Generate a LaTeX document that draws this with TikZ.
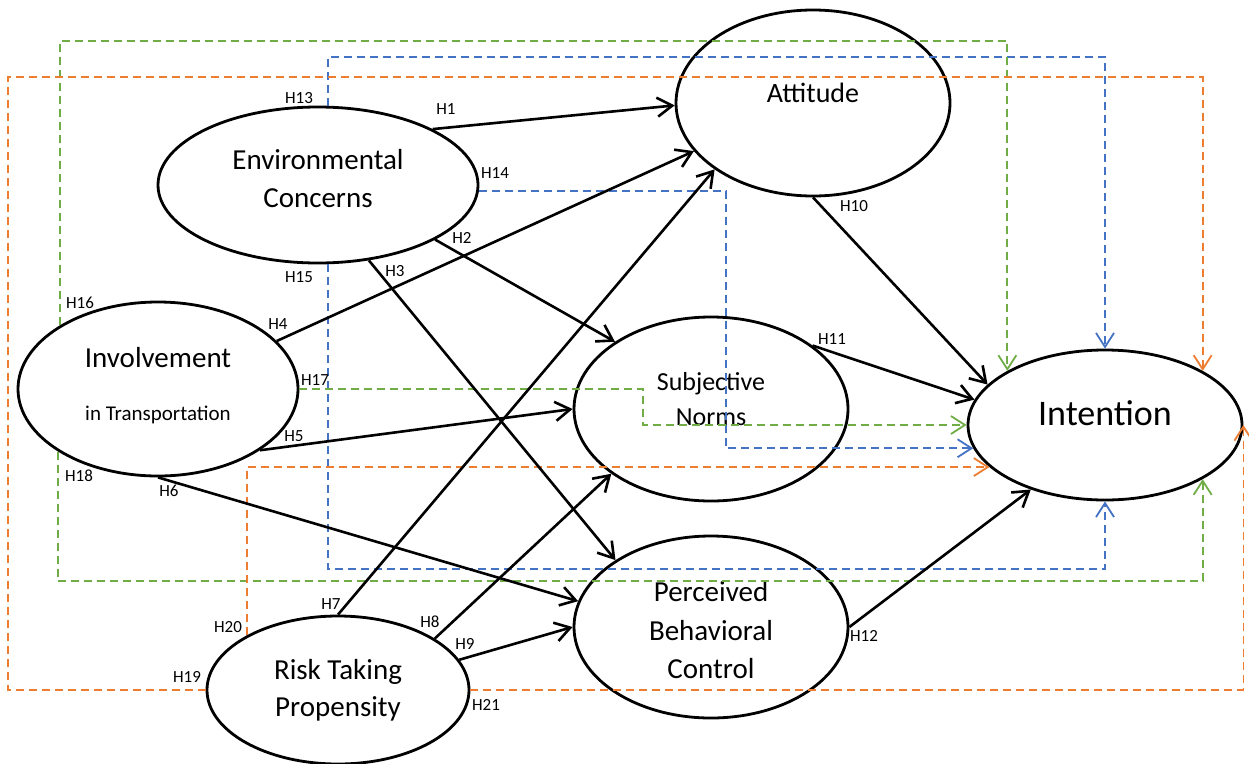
\documentclass[tikz,border=0pt]{standalone}
\usepackage{fontspec}
\setmainfont{Carlito}
\usetikzlibrary{arrows.meta,shapes.geometric}
\definecolor{gline}{HTML}{70AD47}
\definecolor{bline}{HTML}{4472C4}
\definecolor{oline}{HTML}{ED7D31}
\begin{document}
\begin{tikzpicture}[x=1pt,y=-1pt,
  construct/.style={draw, ellipse, line width=2.8pt, inner sep=0pt},
  big/.style={font=\fontsize{29}{35}\selectfont},
  hlab/.style={font=\fontsize{17}{20}\selectfont, inner sep=0pt},
  hyp/.style={line width=2.6pt, -{Straight Barb[length=15pt,width=19pt]}},
  dlink/.style={line width=1.8pt, dash pattern=on 8pt off 5pt,
                -{Straight Barb[length=14pt,width=18pt]}},
  gdash/.style={dlink, draw=gline},
  bdash/.style={dlink, draw=bline},
  odash/.style={dlink, draw=oline}]
\useasboundingbox (0,0) rectangle (1249,763);

% constructs
\node[construct, minimum width=320pt, minimum height=156pt,
      label={[big,yshift=25pt]center:Environmental},
      label={[big,yshift=-13pt]center:Concerns}] (env) at (318,185) {};
\node[construct, minimum width=274pt, minimum height=186pt,
      label={[font=\fontsize{28}{34}\selectfont,yshift=10pt]center:Attitude}] (att) at (813,103) {};
\node[construct, minimum width=280pt, minimum height=174pt,
      label={[big,yshift=31pt]center:Involvement},
      label={[font=\fontsize{21}{25}\selectfont,yshift=-26pt]center:in Transportation}] (inv) at (158,389) {};
\node[construct, minimum width=274pt, minimum height=184pt,
      label={[font=\fontsize{26}{31}\selectfont,yshift=25pt]center:Subjective},
      label={[font=\fontsize{26}{31}\selectfont,yshift=-8pt]center:Norms}] (subj) at (711,409) {};
\node[construct, minimum width=274pt, minimum height=182pt,
      label={[big,yshift=35pt]center:Perceived},
      label={[big,yshift=-4pt]center:Behavioral},
      label={[big,yshift=-42pt]center:Control}] (pbc) at (711,627) {};
\node[construct, minimum width=262pt, minimum height=148pt,
      label={[big,yshift=18pt]center:Risk Taking},
      label={[big,yshift=-19pt]center:Propensity}] (risk) at (338,690) {};
\node[construct, minimum width=274pt, minimum height=150pt,
      label={[font=\fontsize{36}{43}\selectfont,yshift=12pt]center:Intention}] (int) at (1105,425) {};

% corner heights and columns of the moderating paths
\coordinate (gTop) at (0,41);
\coordinate (bTop) at (0,57);
\coordinate (oCorner) at (8,77);
\coordinate (bMid) at (726,0);
\coordinate (gMid) at (643,0);
\coordinate (bBot) at (0,569);
\coordinate (gBot) at (0,581);

% dashed paths
\draw[bdash] (env.83) |- (int.north |- bTop) -- (int.north);
\draw[bdash] (env.-2.5) -| (bMid |- int.190) -- (int.190);
\draw[bdash] (env.-83) |- (int.south |- bBot) -- (int.south);
\draw[gdash] (inv.147.7) |- (int.151.4 |- gTop) -- (int.151.4);
\draw[gdash] (inv.east) -| (gMid |- int.west) -- (int.west);
\draw[gdash] (inv.212.3) |- (int.-29.1 |- gBot) -- (int.-29.1);
\draw[odash] (risk.west) -| (oCorner) -| (int.29.1);
\draw[odash] (risk.149.5) |- (int.200.3);
\draw[odash] (risk.east) -| (int.east);

% direct paths
\draw[hyp] (env.26) -- (att.181);
\draw[hyp] (env.-25.2) -- (subj.145.8);
\draw[hyp] (env.-56.7) -- (pbc.145.8);
\draw[hyp] (inv.22.8) -- (att.202.1);
\draw[hyp] (inv.-31.8) -- (subj.west);
\draw[hyp] (inv.south) -- (pbc.169.4);
\draw[hyp] (risk.north) -- (att.214.75);
\draw[hyp] (risk.28.95) -- (subj.213.55);
\draw[hyp] (risk.14.5) -- (pbc.west);
\draw[hyp] (att.south) -- (int.161.3);
\draw[hyp] (subj.32.2) -- (int.169.3);
\draw[hyp] (pbc.east) -- (int.221.4);

% hypothesis labels
\node[hlab] (h1) at (446,109) {H1};
\node[hlab] (h2) at (462,238) {H2};
\node[hlab] (h3) at (395,271) {H3};
\node[hlab] (h4) at (278,324) {H4};
\node[hlab] (h5) at (294,436) {H5};
\node[hlab] (h6) at (169,491) {H6};
\node[hlab] (h7) at (331,604) {H7};
\node[hlab] (h8) at (430,622) {H8};
\node[hlab] (h9) at (465,644) {H9};
\node[hlab] (h10) at (854,206) {H10};
\node[hlab] (h11) at (832,339) {H11};
\node[hlab] (h12) at (864,636) {H12};
\node[hlab] (h13) at (299,98) {H13};
\node[hlab] (h14) at (495,173) {H14};
\node[hlab] (h15) at (299,277) {H15};
\node[hlab] (h16) at (80,303) {H16};
\node[hlab] (h17) at (315,380) {H17};
\node[hlab] (h18) at (79,476) {H18};
\node[hlab] (h19) at (187,677) {H19};
\node[hlab] (h20) at (228,627) {H20};
\node[hlab] (h21) at (486,705) {H21};
\end{tikzpicture}
\end{document}
